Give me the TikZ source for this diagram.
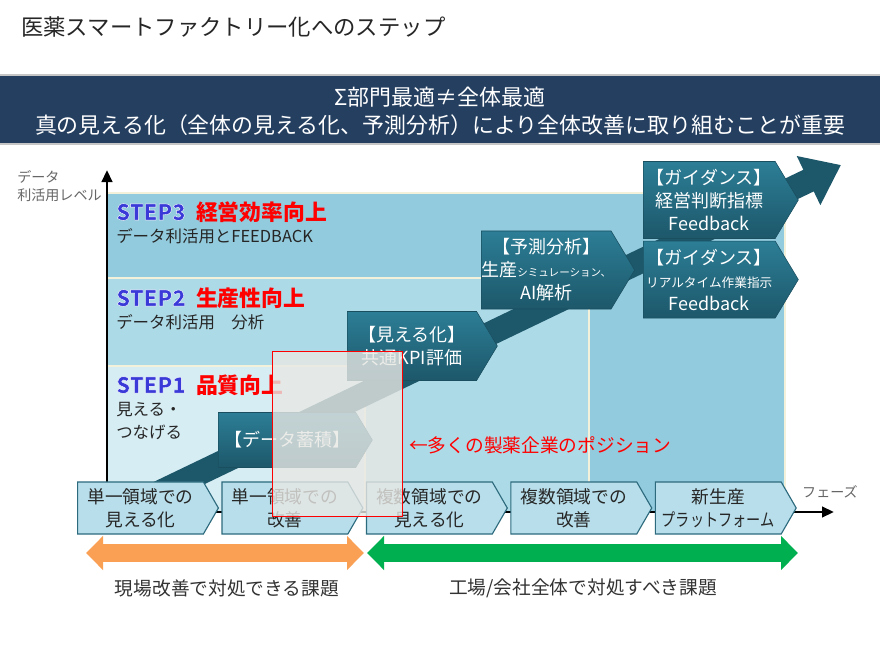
\documentclass[tikz,border=0pt]{standalone}
\usepackage{fontspec}
\setmainfont{Noto Sans CJK JP}
\newfontfamily\stepfont{Noto Sans CJK JP}[BoldFeatures={FakeBold=1.8}]
\newfontfamily\narrowfont{Noto Sans CJK JP}[FakeStretch=0.8]
\usetikzlibrary{positioning,shapes.symbols,arrows.meta,calc}

\definecolor{banner}{HTML}{253F60}
\definecolor{bandhi}{HTML}{92CBDD}
\definecolor{bandmid}{HTML}{ADDAE7}
\definecolor{bandlo}{HTML}{D6EDF4}
\definecolor{cream}{HTML}{F4F1DA}
\definecolor{stagetop}{HTML}{2C7E96}
\definecolor{stagebot}{HTML}{1D576A}
\definecolor{stageline}{HTML}{1A4F60}
\definecolor{phasefill}{HTML}{B7DEEA}
\definecolor{phaseline}{HTML}{2D6A7D}
\definecolor{stepblue}{HTML}{3A3AD8}
\definecolor{orangearr}{HTML}{F9A054}
\definecolor{greenarr}{HTML}{00B050}
\definecolor{posfill}{HTML}{E8E8E4}

\tikzstyle{phase} = [draw=phaseline, fill=phasefill, thick, signal, signal to=east, signal pointer angle=120, minimum width=3.52cm, minimum height=1.3cm, inner sep=0pt, align=center, text=black!85, font=\fontsize{12.6}{16.3}\selectfont]
\tikzstyle{stage} = [draw=stageline, top color=stagetop, bottom color=stagebot, signal, signal to=east, signal pointer angle=118, inner sep=0pt, align=center, text=white, font=\fontsize{12.8}{16.3}\selectfont]

\newcommand{\outlined}[1]{\special{pdf:code 1 1 1 RG}#1}

\begin{document}
\begin{tikzpicture}[x=0.025cm, y=-0.025cm,
			steptxt/.style = {anchor=west, inner sep=0pt, text=stepblue, font=\fontsize{15.5}{18}\selectfont\stepfont\bfseries},
			goal/.style = {anchor=west, inner sep=0pt, text=red, font=\fontsize{15.5}{18}\selectfont\bfseries},
			stepsub/.style = {anchor=west, inner sep=0pt, align=left, text=black!85, font=\fontsize{11.7}{16.3}\selectfont},
			axislbl/.style = {inner sep=0pt, text=black!60, font=\fontsize{10}{12.8}\selectfont},
			axis/.style = {line width=2pt, -{Triangle[length=3mm, width=2.6mm]}},
			flow/.style = {line width=6mm, draw=stagebot, -{Triangle[length=9mm, width=13mm]}},
			issue/.style = {line width=4.5mm, {Triangle[length=4.25mm, width=8.25mm]}-{Triangle[length=4.25mm, width=8.25mm]}},
			issuelbl/.style = {inner sep=0pt, text=black!80, font=\fontsize{13.3}{16}\selectfont},
			creamline/.style = {draw=cream, line width=1.8pt}]
			\useasboundingbox[fill=white] (0,0) rectangle (880,655);
			
			\node (title)[anchor=west, inner sep=0pt, text=black!85, font=\fontsize{15.9}{19}\selectfont] at (21,27) {医薬スマートファクトリー化へのステップ};
			
			\fill[banner] (0,75) rectangle (880,144);
			\draw[gray!45, thick] (0,75) -- (880,75) (0,144) -- (880,144);
			\node (msg)[text=white, align=center, font=\fontsize{15.6}{19.8}\selectfont] at (440,111) {Σ部門最適≠全体最適\\真の見える化（全体の見える化、予測分析）により全体改善に取り組むことが重要};
			
			\fill[bandhi] (107,193) rectangle (785,512);
			\fill[bandmid] (107,278) rectangle (589,512);
			\fill[bandlo] (107,366) rectangle (365,512);
			\draw[creamline] (107,193) -- (785,193) -- (785,512);
			\draw[creamline] (107,278) -- (589,278) -- (589,512);
			\draw[creamline] (107,366) -- (365,366) -- (365,512);
			
			\coordinate (origin) at (107,512);
			\coordinate (ytip) at (107,170);
			\coordinate (xtip) at (834,512);
			\draw[axis] (origin) -- (ytip);
			\draw[axis] (origin) -- (xtip);
			\node (ylbl)[axislbl, align=left, anchor=north west] at (17,170) {データ\\利活用レベル};
			\node (xlbl)[axislbl] at (830,492) {フェーズ};
			
			\node (s3)[steptxt] at (116,212) {\outlined{STEP3}};
			\node (g3)[goal, right=7pt of s3] {経営効率向上};
			\node (d3)[stepsub] at (116,236) {データ利活用とFEEDBACK};
			\node (s2)[steptxt] at (116,298) {\outlined{STEP2}};
			\node (g2)[goal, right=7pt of s2] {生産性向上};
			\node (d2)[stepsub] at (116,322) {データ利活用　分析};
			\node (s1)[steptxt] at (116,385) {\outlined{STEP1}};
			\node (g1)[goal, right=7pt of s1] {品質向上};
			\node (d1)[stepsub] at (116,421) {見える・\\つなげる};
			
			\coordinate (flowstart) at (150,497);
			\coordinate (flowend) at (841,165);
			\draw[flow] (flowstart) -- (flowend);
			
			\node (acc)[stage, minimum width=3.85cm, minimum height=1.375cm, anchor=west] at (218,440) {【データ蓄積】};
			\node (vis)[stage, minimum width=3.75cm, minimum height=1.725cm, anchor=west] at (347,346) {【見える化】\\共通KPI評価};
			\node (pred)[stage, minimum width=3.775cm, minimum height=1.95cm, anchor=west] at (481,270) {【予測分析】\\生産{\fontsize{7.5}{9}\selectfont シミュレーション、}\\AI解析};
			\node (gd1)[stage, minimum width=3.875cm, minimum height=1.925cm, anchor=west] at (643,200) {【ガイダンス】\\経営判断指標\\Feedback};
			\node (gd2)[stage, minimum width=3.875cm, minimum height=1.925cm, below=0.05cm of gd1] {【ガイダンス】\\{\fontsize{9}{11}\selectfont リアルタイム作業指示}\\Feedback};
			
			\node (ph1)[phase, anchor=west] at (77,508) {単一領域での\\見える化};
			\node (ph2)[phase, right=0.06cm of ph1] {単一領域での\\改善};
			\node (ph3)[phase, right=0.06cm of ph2] {複数領域での\\見える化};
			\node (ph4)[phase, right=0.06cm of ph3] {複数領域での\\改善};
			\node (ph5)[phase, right=0.06cm of ph4] {新生産\\{\narrowfont プラットフォーム}};
			
			\node (pos)[draw=red, fill=posfill, fill opacity=0.8, minimum width=3.25cm, minimum height=4.125cm, anchor=north west, inner sep=0pt] at (272,351) {};
			\node (posnote)[anchor=west, inner sep=0pt, text=red, font=\fontsize{13.3}{16}\selectfont] at (409,445) {←多くの製薬企業のポジション};
			
			\coordinate (lhsL) at (86,553);
			\coordinate (lhsR) at (364,553);
			\coordinate (rhsL) at (367,553);
			\coordinate (rhsR) at (798,553);
			\draw[issue, draw=orangearr, fill=orangearr] (lhsL) -- (lhsR);
			\draw[issue, draw=greenarr, fill=greenarr] (rhsL) -- (rhsR);
			\node (lhslbl)[issuelbl] at (227,588) {現場改善で対処できる課題};
			\node (rhslbl)[issuelbl] at (583,588) {工場/会社全体で対処すべき課題};
		\end{tikzpicture}
\end{document}
